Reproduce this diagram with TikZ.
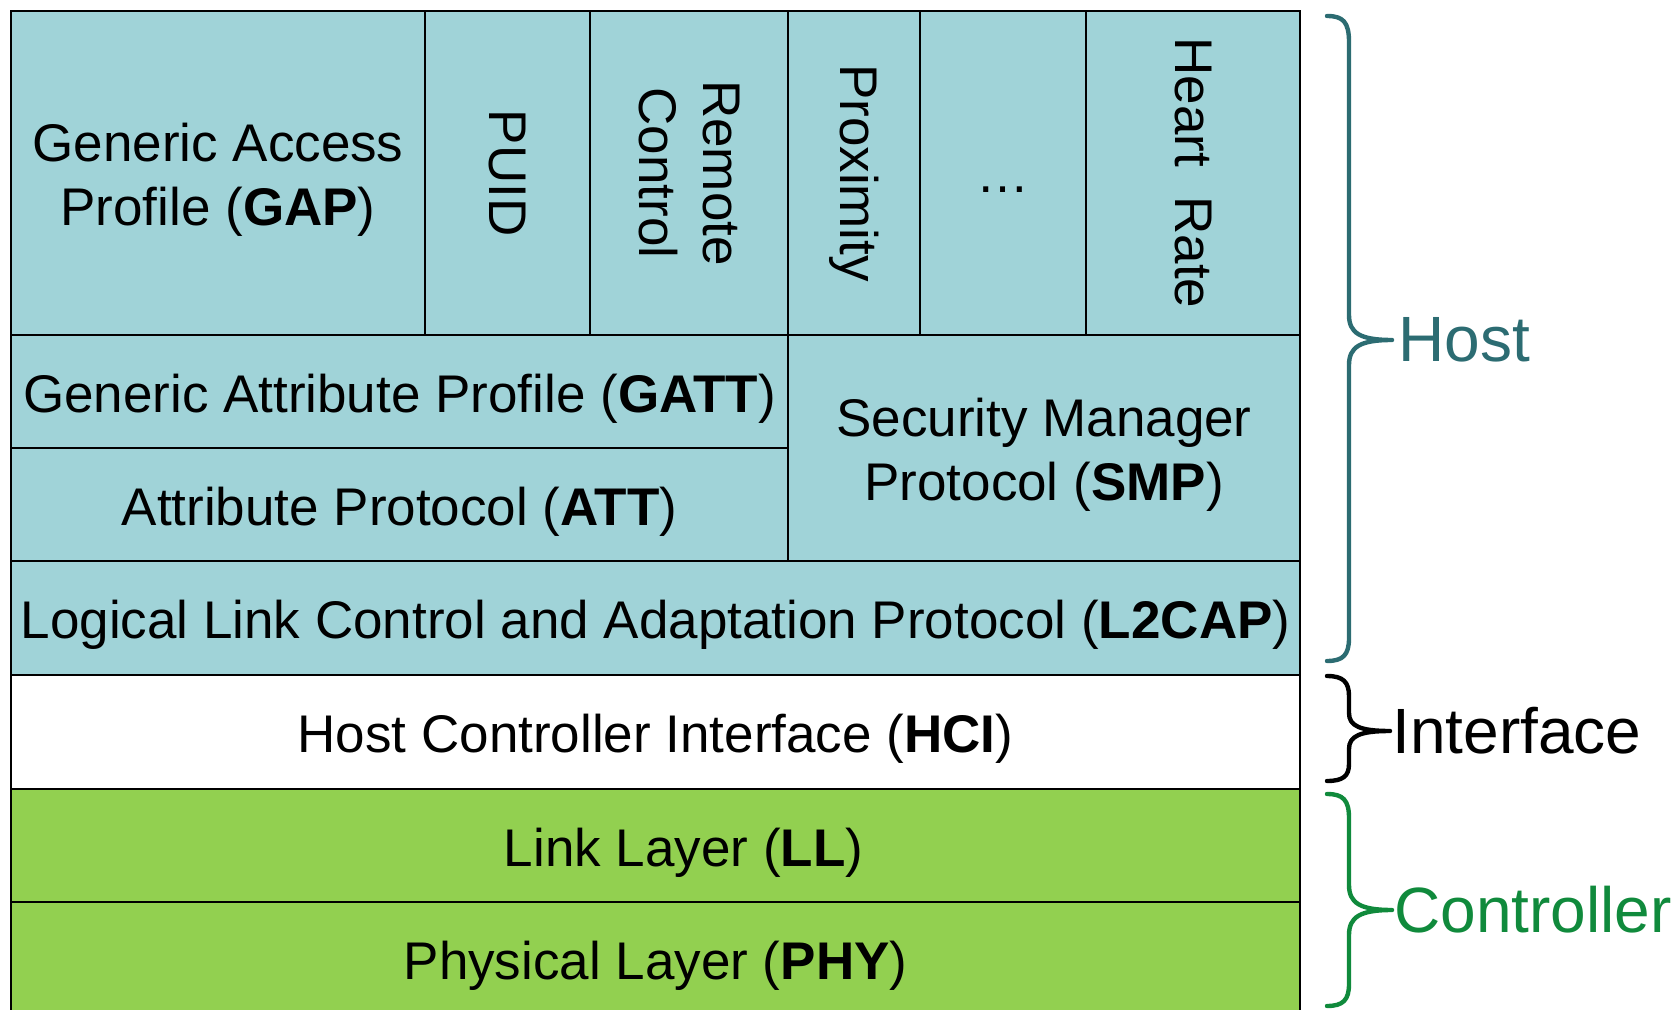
\documentclass[tikz,border=0pt]{standalone}
\usepackage{fontspec}
\setmainfont{Liberation Sans}
\usetikzlibrary{fit}

\definecolor{hostfill}{RGB}{160,211,216}
\definecolor{ctrlfill}{RGB}{146,208,80}
\definecolor{hostink}{RGB}{44,108,114}
\definecolor{ctrlink}{RGB}{16,138,60}

\tikzset{
  cell/.style={draw=black, line width=1.2pt, inner sep=0pt, outer sep=0pt},
  hostcell/.style={cell, fill=hostfill},
  ifcell/.style={cell, fill=white},
  ctrlcell/.style={cell, fill=ctrlfill},
  plaintext/.style={font=\fontsize{26.5}{32}\selectfont, align=center, inner sep=0pt},
  boxtext/.style={plaintext, yshift=-3.5pt},
  vtext/.style={plaintext, rotate=-90},
  bracelabel/.style={font=\fontsize{32}{38}\selectfont, anchor=west, inner sep=0pt},
  brace/.style={line width=2.2pt, line cap=round, line join=round}
}

\begin{document}
\begin{tikzpicture}[x=0.5pt, y=-0.5pt]
\useasboundingbox (0,0) rectangle (1676,1010);
\clip (0,0) rectangle (1676,1010);

% ---- profiles row ----
\node[hostcell, fit={(11,11)(425,335)}]   (gapcell)  {};
\node[hostcell, fit={(425,11)(590,335)}]  (puidcell) {};
\node[hostcell, fit={(590,11)(788,335)}]  (rccell)   {};
\node[hostcell, fit={(788,11)(920,335)}]  (proxcell) {};
\node[hostcell, fit={(920,11)(1086,335)}] (morecell) {};
\node[hostcell, fit={(1086,11)(1300,335)}] (hrcell)  {};

\node[boxtext] (gap) at (gapcell) {Generic Access\\Profile (\textbf{GAP})};
\node[vtext] (puid) at (puidcell) {PUID};
\node[vtext] (rc) at (rccell) {Remote\\Control};
\node[vtext] (prox) at (proxcell) {Proximity};
\node[plaintext, anchor=base] (more) at ([yshift=-10pt]morecell.center) {…};
\node[vtext] (hr) at (hrcell) {Heart\ \ Rate};

% ---- GATT / ATT / SMP ----
\node[hostcell, fit={(11,335)(788,448)}]   (gattcell) {};
\node[hostcell, fit={(11,448)(788,561)}]   (attcell)  {};
\node[hostcell, fit={(788,335)(1300,561)}] (smpcell)  {};

\node[boxtext] (gatt) at (gattcell) {Generic Attribute Profile (\textbf{GATT})};
\node[boxtext] (att) at (attcell) {Attribute Protocol (\textbf{ATT})};
\node[boxtext] (smp) at (smpcell) {Security Manager\\Protocol (\textbf{SMP})};

% ---- L2CAP, HCI, LL, PHY ----
\node[hostcell, fit={(11,561)(1300,675)}]  (l2capcell) {};
\node[ifcell,   fit={(11,675)(1300,789)}]  (hcicell)   {};
\node[ctrlcell, fit={(11,789)(1300,902)}]  (llcell)    {};
\node[ctrlcell, fit={(11,902)(1300,1018)}] (phycell)   {};

\node[boxtext] (l2cap) at (l2capcell) {Logical Link Control and Adaptation Protocol (\textbf{L2CAP})};
\node[boxtext] (hci) at (hcicell) {Host Controller Interface (\textbf{HCI})};
\node[boxtext, xshift=14pt] (ll) at (llcell) {Link Layer (\textbf{LL})};
\node[plaintext] (phy) at ([yshift=-3pt]phycell.center) {Physical Layer (\textbf{PHY})};

% ---- braces grouping the layers ----
\coordinate (hosttip) at (1392,340);
\draw[brace, hostink] (1327,16) .. controls (1343,16) and (1349,22) .. (1349,42)
  -- (1349,315) .. controls (1349,333) and (1360,340) .. (hosttip)
  .. controls (1360,340) and (1349,347) .. (1349,365)
  -- (1349,638) .. controls (1349,655) and (1343,661) .. (1327,661);
\node[bracelabel, text=hostink] (host) at ([xshift=3pt]hosttip) {Host};

\coordinate (iftip) at (1390,731);
\draw[brace, black] (1327,676) .. controls (1343,676) and (1349,682) .. (1349,696)
  -- (1349,713) .. controls (1349,726) and (1360,731) .. (iftip)
  .. controls (1360,731) and (1349,736) .. (1349,749)
  -- (1349,764) .. controls (1349,776) and (1343,781) .. (1327,781);
\node[bracelabel, text=black] (iface) at ([xshift=1pt]iftip) {Interface};

\coordinate (ctrltip) at (1392,910);
\draw[brace, ctrlink] (1327,794) .. controls (1343,794) and (1349,800) .. (1349,818)
  -- (1349,885) .. controls (1349,903) and (1360,910) .. (ctrltip)
  .. controls (1360,910) and (1349,917) .. (1349,935)
  -- (1349,984) .. controls (1349,1000) and (1343,1006) .. (1327,1006);
\node[bracelabel, text=ctrlink] (ctrl) at ([xshift=1pt]ctrltip) {Controller};
\end{tikzpicture}
\end{document}
